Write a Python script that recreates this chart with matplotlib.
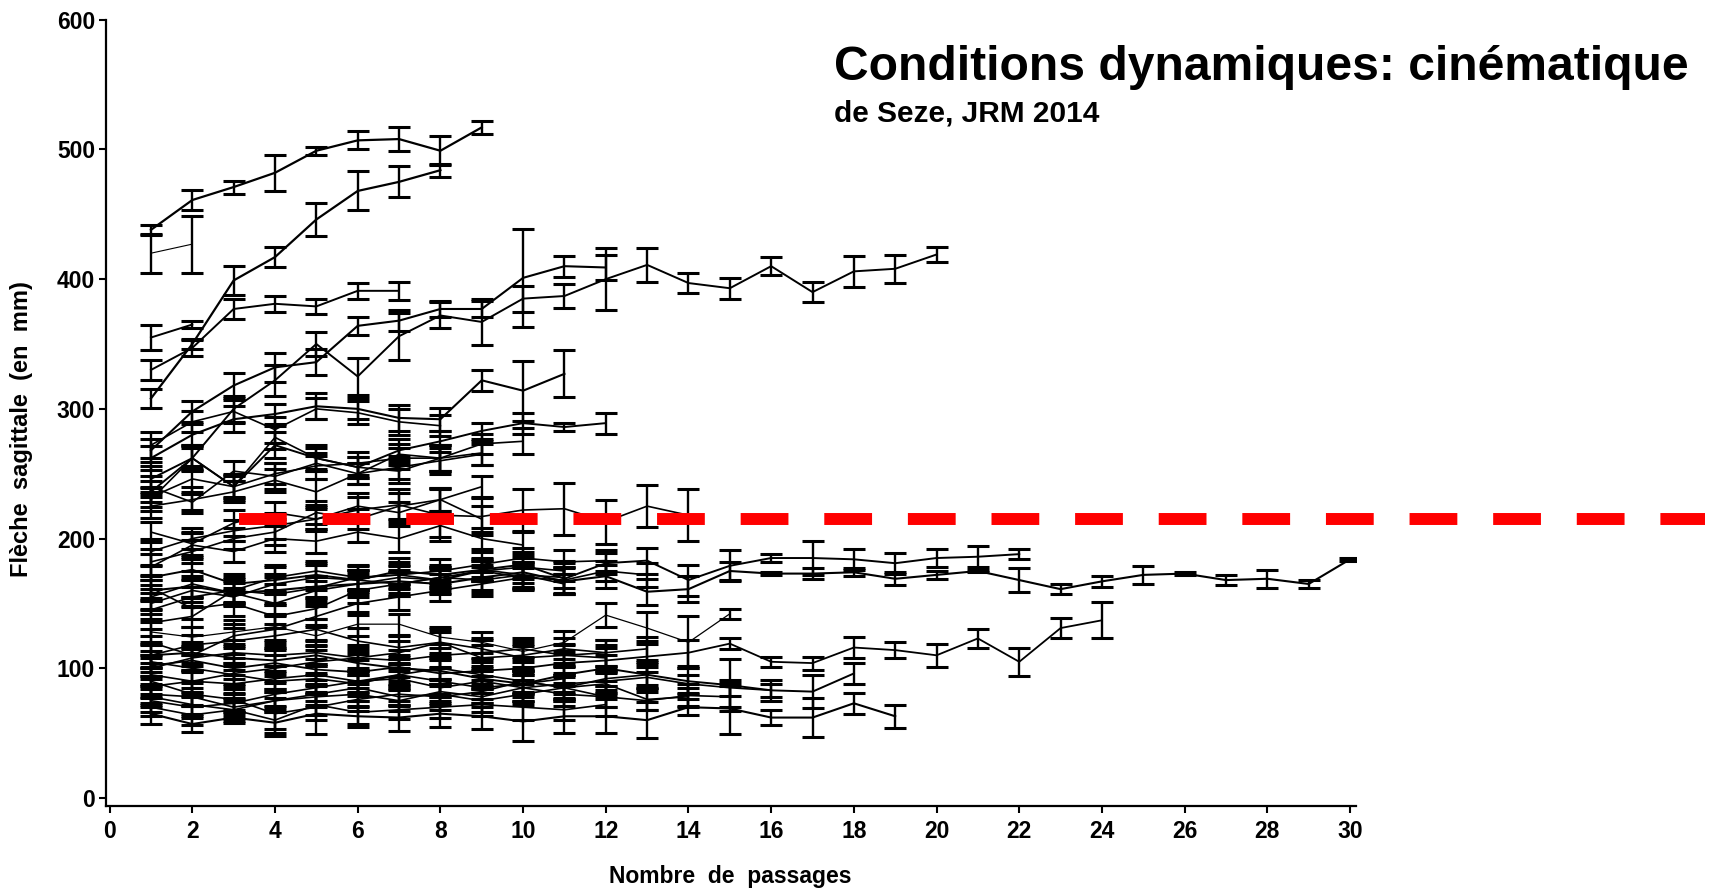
import matplotlib.pyplot as plt

plt.rcParams['font.family'] = ['Liberation Sans', 'DejaVu Sans']
plt.rcParams['font.weight'] = 'bold'

# Mean "flèche sagittale" (mm) per passage, one list per patient; x starts at 1
# plus the half-width of the error bar at each passage
s01 = [438, 461, 471, 482, 499, 507, 508, 499, 517]
e01 = [4, 8, 5, 14, 3, 7, 9, 11, 5]
s02 = [308, 350, 399, 417, 446, 468, 475, 484]
e02 = [7, 4, 11, 8, 13, 15, 12, 5]
s03 = [420, 427]
e03 = [15, 22]
s04 = [355, 365]
e04 = [10, 3]
s05 = [330, 347, 377, 381, 379, 391, 391]
e05 = [8, 6, 8, 6, 6, 6, 7]
s06 = [268, 298, 318, 332, 336, 364, 368, 377, 377, 401, 410, 409]
e06 = [9, 8, 10, 11, 10, 7, 8, 6, 6, 38, 8, 10]
s07 = [236, 262, 300, 322, 350, 325, 356, 372, 367, 385, 387, 400, 411, 397, 393, 410, 390, 406, 408, 419]
e07 = [8, 9, 10, 12, 9, 14, 18, 10, 18, 10, 9, 24, 13, 8, 8, 7, 8, 12, 11, 6]
s08 = [262, 280, 292, 296, 302, 300, 293, 292, 322, 314, 327]
e08 = [9, 8, 10, 8, 10, 8, 10, 9, 8, 23, 18]
s09 = [246, 262, 240, 272, 262, 255, 268, 275, 283, 289, 286, 289]
e09 = [10, 8, 10, 10, 8, 8, 9, 8, 6, 8, 3, 8]
s10 = [240, 228, 252, 248, 258, 250, 265, 262, 273, 275]
e10 = [8, 6, 8, 10, 6, 8, 8, 10, 8, 10]
s11 = [190, 200, 206, 210, 215, 222, 226, 218, 217, 222, 223, 213, 225, 218]
e11 = [10, 8, 8, 10, 8, 10, 12, 20, 14, 16, 20, 17, 16, 20]
s12 = [170, 176, 165, 168, 172, 168, 175, 172, 176, 180, 169, 181, 183, 168, 179, 185, 185, 184, 181, 185, 186, 188]
e12 = [9, 8, 8, 10, 9, 8, 10, 8, 8, 10, 12, 8, 10, 12, 12, 3, 13, 8, 8, 7, 8, 4]
s13 = [160, 163, 158, 160, 163, 165, 167, 165, 170, 174, 167, 171, 159, 161, 175,
       173, 173, 174, 169, 172, 175, 168, 161, 167, 172, 173, 168, 169, 165, 184]
e13 = [8, 8, 9, 10, 8, 10, 9, 8, 10, 8, 10, 9, 10, 10, 7,
       1, 4, 3, 5, 3, 1, 9, 4, 4, 7, 1, 4, 7, 3, 1]
s14 = [128, 124, 128, 132, 125, 134, 134, 124, 120, 113, 120, 141, 131, 120, 142]
e14 = [10, 8, 9, 10, 8, 9, 8, 8, 8, 8, 9, 9, 12, 20, 4]
s15 = [102, 106, 100, 104, 99, 97, 101, 96, 98, 100, 104, 106, 109, 112, 119, 105, 104, 116, 114, 110, 123, 105, 131, 137]
e15 = [8, 9, 8, 10, 8, 9, 8, 10, 10, 9, 9, 10, 12, 10, 4, 4, 5, 8, 6, 9, 7, 11, 8, 14]
s16 = [110, 112, 108, 106, 110, 104, 100, 98, 92, 88, 95, 100, 95, 90, 87, 83, 82, 96]
e16 = [10, 8, 9, 10, 8, 9, 10, 10, 8, 10, 9, 10, 8, 10, 20, 8, 13, 8]
s17 = [65, 57, 62, 58, 65, 63, 62, 65, 63, 59, 63, 63, 60, 70, 69, 62, 62, 73, 63]
e17 = [8, 6, 4, 10, 16, 8, 10, 10, 10, 15, 13, 13, 14, 6, 20, 6, 15, 8, 9]
s18 = [80, 78, 70, 75, 80, 85, 78, 80, 75, 80, 85, 78, 75, 79, 78]
e18 = [8, 7, 6, 9, 8, 10, 7, 8, 9, 8, 10, 8, 7, 9, 8]
s19 = [95, 90, 88, 92, 95, 90, 92, 85, 90, 85, 88, 90, 93, 88, 85, 83]
e19 = [9, 8, 7, 10, 8, 9, 8, 7, 9, 10, 8, 9, 8, 7, 6, 5]
s20 = [150, 160, 155, 165, 170, 168, 165, 170, 175, 178, 175]
e20 = [8, 9, 7, 8, 10, 8, 9, 7, 8, 9, 8]
s21 = [145, 155, 160, 157, 162, 170, 172, 175, 180, 185, 182, 183]
e21 = [9, 8, 10, 8, 9, 10, 8, 9, 10, 8, 9, 8]
s22 = [178, 195, 190, 200, 198, 205, 200, 210, 200, 195]
e22 = [10, 9, 8, 10, 9, 8, 10, 9, 8, 10]
s23 = [225, 230, 236, 245, 236, 250, 255, 260, 265]
e23 = [9, 10, 8, 9, 10, 8, 9, 10, 8]
s24 = [205, 196, 212, 220, 215, 225, 220, 230, 215]
e24 = [8, 9, 10, 8, 9, 10, 8, 9, 10]
s25 = [120, 110, 125, 130, 140, 150, 155, 160, 165, 170]
e25 = [10, 8, 9, 10, 8, 9, 10, 8, 9, 10]
s26 = [86, 90, 96, 100, 105, 108, 112, 120, 115, 108, 110, 112, 115]
e26 = [8, 9, 8, 10, 9, 8, 9, 10, 8, 9, 8, 10, 9]
s27 = [75, 70, 73, 80, 85, 90, 95, 100, 95, 90, 85, 92, 95]
e27 = [9, 8, 7, 9, 10, 8, 9, 8, 10, 9, 8, 9, 10]
s28 = [70, 64, 68, 75, 78, 80, 75, 82, 78, 85, 80, 78]
e28 = [7, 8, 6, 9, 8, 10, 8, 9, 8, 10, 9, 8]
s29 = [105, 100, 95, 90, 92, 88, 95, 90, 85, 88, 92]
e29 = [8, 10, 9, 8, 10, 9, 8, 10, 9, 8, 10]
s30 = [162, 146, 150, 140, 146, 160, 165, 170, 168, 172, 165]
e30 = [9, 8, 10, 9, 8, 10, 9, 8, 10, 9, 8]
s31 = [182, 190, 200, 205, 220, 215, 225, 230, 240]
e31 = [10, 9, 8, 10, 9, 8, 10, 9, 8]
s32 = [272, 290, 298, 284, 300, 297, 290, 287]
e32 = [10, 8, 9, 10, 8, 9, 10, 8]
s33 = [232, 246, 240, 250, 256, 258, 262, 262, 266]
e33 = [8, 10, 9, 8, 10, 9, 8, 10, 9]
s34 = [110, 118, 121, 125, 130, 121, 116, 120, 108, 110, 115, 112]
e34 = [9, 8, 10, 9, 8, 10, 9, 8, 10, 9, 8, 10]
s35 = [90, 80, 76, 65, 70, 76, 80, 78, 82, 90, 85, 88, 76, 78]
e35 = [10, 9, 8, 12, 10, 9, 8, 10, 9, 8, 10, 9, 8, 7]
s36 = [78, 72, 68, 60, 72, 66, 68, 70, 72, 70, 68, 72]
e36 = [8, 7, 9, 10, 8, 9, 7, 8, 9, 10, 8, 9]
s37 = [155, 165, 158, 150, 160, 165, 170, 168, 175, 170, 168, 175, 172]
e37 = [9, 10, 8, 9, 10, 8, 9, 10, 8, 9, 10, 8, 9]
s38 = [100, 108, 112, 110, 112, 108, 106, 110, 112, 115, 110, 108]
e38 = [8, 9, 10, 8, 9, 10, 8, 9, 10, 8, 9, 10]
s39 = [135, 140, 160, 170, 175, 170, 172, 168, 176, 172, 170]
e39 = [10, 8, 9, 10, 8, 9, 10, 8, 9, 10, 8]
s40 = [230, 262, 240, 278, 262, 255, 252, 262]
e40 = [9, 10, 8, 9, 10, 8, 9, 10]

# reference level (dashed red line)
ref_level = 215

x_ticks = list(range(0, 31, 2))
y_ticks = [0, 100, 200, 300, 400, 500, 600]

# (means, errors, line width) ; a few curves are drawn with a thinner line
series = [
    (s01, e01, 1.6), (s02, e02, 1.6), (s03, e03, 0.8), (s04, e04, 1.4),
    (s05, e05, 1.4), (s06, e06, 1.5), (s07, e07, 1.4), (s08, e08, 1.5),
    (s09, e09, 1.4), (s10, e10, 1.2), (s11, e11, 1.2), (s12, e12, 1.4),
    (s13, e13, 1.5), (s14, e14, 0.9), (s15, e15, 1.3), (s16, e16, 1.4),
    (s17, e17, 1.5), (s18, e18, 1.2), (s19, e19, 1.2), (s20, e20, 1.2),
    (s21, e21, 1.2), (s22, e22, 1.2), (s23, e23, 1.2), (s24, e24, 1.2),
    (s25, e25, 1.2), (s26, e26, 1.2), (s27, e27, 1.2), (s28, e28, 1.2),
    (s29, e29, 1.2), (s30, e30, 1.2), (s31, e31, 1.2), (s32, e32, 1.2),
    (s33, e33, 1.2), (s34, e34, 1.2), (s35, e35, 1.2), (s36, e36, 1.2),
    (s37, e37, 1.2), (s38, e38, 1.2), (s39, e39, 1.2), (s40, e40, 1.2),
]

fig = plt.figure(figsize=(17.17, 8.89), dpi=100, facecolor='white')
ax = fig.add_axes([0.0619, 0.0929, 0.728, 0.8849])

for means, errs, lw in series:
    x = list(range(1, len(means) + 1))
    ax.errorbar(x, means, yerr=errs, color='black', lw=lw,
                elinewidth=1.7, capsize=7.8, capthick=2.2)

# dashed threshold line, running past the axes to the right edge
ax.plot([3.12, 38.58], [ref_level, ref_level], color='red', lw=8.6,
        dashes=(4, 3), solid_capstyle='butt', clip_on=False, zorder=10)

ax.set_xlim(-0.08, 30.15)
ax.set_ylim(-6.5, 600)
ax.set_xticks(x_ticks)
ax.set_yticks(y_ticks)
ax.tick_params(labelsize=16.5, width=1.5, length=5, direction='out', pad=3)
ax.tick_params(axis='x', pad=5)
for lab in ax.get_xticklabels() + ax.get_yticklabels():
    lab.set_fontweight('bold')

ax.spines['top'].set_visible(False)
ax.spines['right'].set_visible(False)
ax.spines['left'].set_linewidth(1.6)
ax.spines['bottom'].set_linewidth(1.6)

fig.text(0.4252, 0.0146, 'Nombre  de  passages', ha='center', va='center',
         fontsize=16.5, fontweight='bold')
fig.text(0.0128, 0.517, 'Flèche  sagittale  (en  mm)', ha='center', va='center',
         rotation=90, fontsize=17, fontweight='bold')

fig.text(834 / 1717, 1 - 80 / 889, 'Conditions dynamiques: cinématique',
         ha='left', va='baseline', fontsize=34.6, fontweight='bold')
fig.text(834 / 1717, 1 - 121 / 889, 'de Seze, JRM 2014',
         ha='left', va='baseline', fontsize=21.5, fontweight='bold')

fig.savefig('out.png', dpi=100, facecolor='white')
